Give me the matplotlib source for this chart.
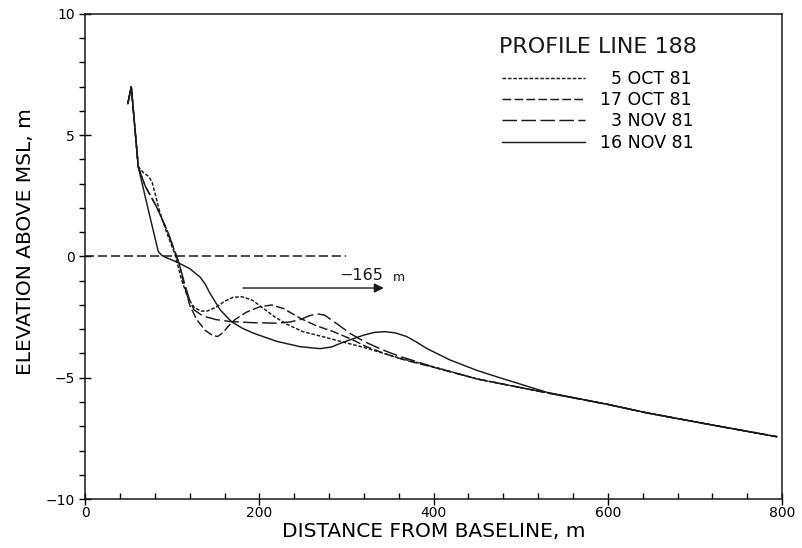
import numpy as np
import matplotlib.pyplot as plt
from matplotlib.lines import Line2D
from matplotlib.ticker import MultipleLocator

# profile line 188 survey data (distance from baseline m, elevation m)
x_5oct = [49, 53, 61, 67, 73, 77, 86, 94, 103, 111, 118, 125, 133, 140, 150, 160, 170, 180,
          192, 205, 218, 232, 250, 270, 293, 320, 343, 362, 400, 450, 530, 600, 645, 720, 794]
y_5oct = [6.3, 7.0, 3.7, 3.45, 3.3, 3.05, 1.8, 0.95, 0.1, -1.0, -1.7, -2.1, -2.25, -2.25, -2.1,
          -1.85, -1.68, -1.66, -1.8, -2.15, -2.5, -2.8, -3.1, -3.28, -3.5, -3.75, -4.0, -4.2,
          -4.55, -5.05, -5.62, -6.1, -6.45, -6.95, -7.43]

x_17oct = [49, 53, 61, 69, 82, 95, 103, 108, 114, 120, 128, 138, 146, 152, 158, 165, 172, 185,
           200, 214, 228, 247, 265, 285, 305, 323, 340, 354, 370, 400, 450, 530, 600, 645, 720, 794]
y_17oct = [6.3, 7.0, 3.7, 2.9, 2.05, 1.0, 0.2, -0.3, -1.2, -2.0, -2.6, -3.05, -3.25, -3.3, -3.15,
           -2.85, -2.6, -2.3, -2.08, -2.0, -2.15, -2.55, -2.85, -3.1, -3.4, -3.72, -3.95, -4.13,
           -4.3, -4.57, -5.05, -5.62, -6.1, -6.45, -6.95, -7.43]

x_3nov = [49, 53, 61, 69, 82, 95, 103, 108, 114, 120, 125, 135, 150, 166, 193, 220, 235, 247,
          257, 266, 275, 290, 304, 320, 342, 362, 380, 400, 450, 530, 600, 645, 720, 794]
y_3nov = [6.3, 7.0, 3.7, 2.9, 2.05, 1.0, 0.2, -0.3, -1.1, -1.8, -2.2, -2.45, -2.6, -2.68, -2.73,
          -2.75, -2.7, -2.6, -2.45, -2.36, -2.42, -2.8, -3.17, -3.5, -3.86, -4.13, -4.33, -4.56,
          -5.05, -5.62, -6.1, -6.45, -6.95, -7.43]

x_16nov = [49, 53, 61, 72, 84, 88, 92, 100, 107, 120, 132, 138, 143, 155, 168, 180, 193, 220,
           247, 270, 283, 293, 307, 320, 332, 344, 356, 369, 380, 392, 419, 450, 476, 530, 600,
           645, 720, 794]
y_16nov = [6.3, 7.0, 3.7, 2.0, 0.2, 0.05, -0.03, -0.15, -0.26, -0.5, -0.85, -1.15, -1.5, -2.2,
           -2.69, -2.95, -3.16, -3.5, -3.72, -3.8, -3.73, -3.58, -3.4, -3.24, -3.13, -3.1, -3.15,
           -3.3, -3.52, -3.79, -4.27, -4.7, -5.0, -5.6, -6.1, -6.45, -6.95, -7.43]

labels = ["\u20075 OCT 81", "17 OCT 81", "\u20073 NOV 81", "16 NOV 81"]
styles = [(0, (2.5, 1.2)), (0, (6, 2.2)), (0, (10, 3)), "-"]

msl_x = [0, 300]
arrow_from, arrow_to, arrow_y = 178, 346, -1.3

ink = "#1a1a1a"
plt.rcParams["font.family"] = "DejaVu Sans"

fig = plt.figure(figsize=(8.03, 5.48), dpi=100)
ax = fig.add_axes([0.106, 0.0894, 0.868, 0.8851])

series = [(x_5oct, y_5oct), (x_17oct, y_17oct), (x_3nov, y_3nov), (x_16nov, y_16nov)]
for (xs, ys), ls in zip(series, styles):
    ax.plot(xs, ys, color=ink, lw=1.05, linestyle=ls)

# mean sea level reference
ax.plot(msl_x, [0, 0], color=ink, lw=1.1, linestyle=(0, (6, 2.5)))

# bar migration arrow
ax.annotate("", xy=(arrow_to, arrow_y), xytext=(arrow_from, arrow_y),
            arrowprops=dict(arrowstyle="-|>", color=ink, lw=1.0, mutation_scale=14))
ax.text(292, -0.77, "\u2212165", fontsize=11.5, color=ink, va="center", ha="left")
ax.text(353, -0.86, "m", fontsize=9, color=ink, va="center", ha="left")

ax.set_xlim(0, 800)
ax.set_ylim(-10, 10)
ax.xaxis.set_major_locator(MultipleLocator(200))
ax.xaxis.set_minor_locator(MultipleLocator(40))
ax.yaxis.set_major_locator(MultipleLocator(5))
ax.yaxis.set_minor_locator(MultipleLocator(1))
ax.tick_params(axis="x", which="major", direction="inout", length=8, width=1, labelsize=10, pad=1)
ax.tick_params(axis="x", which="minor", direction="in", length=4, width=1)
ax.tick_params(axis="y", which="major", direction="inout", length=9, width=1, labelsize=10, pad=3)
ax.tick_params(axis="y", which="minor", direction="out", length=4, width=1)
for sp in ax.spines.values():
    sp.set_linewidth(1.1)
    sp.set_color(ink)

ax.set_xlabel("DISTANCE FROM BASELINE, m", fontsize=14.5)
ax.set_ylabel("ELEVATION ABOVE MSL, m", fontsize=14.5)
ax.xaxis.set_label_coords(0.5, -0.048)
ax.yaxis.set_label_coords(-0.072, 0.53)

ax.text(0.594, 0.932, "PROFILE LINE 188", transform=ax.transAxes, fontsize=16,
        color=ink, va="center", ha="left")
handles = [Line2D([], [], color=ink, lw=1.05, linestyle=ls) for ls in styles]
ax.legend(handles, labels, loc="upper left", bbox_to_anchor=(0.598, 0.884),
          frameon=False, fontsize=12.5, handlelength=4.8, handletextpad=0.85,
          labelspacing=0.18, borderpad=0, borderaxespad=0)

fig.savefig("out.png", dpi=100)
